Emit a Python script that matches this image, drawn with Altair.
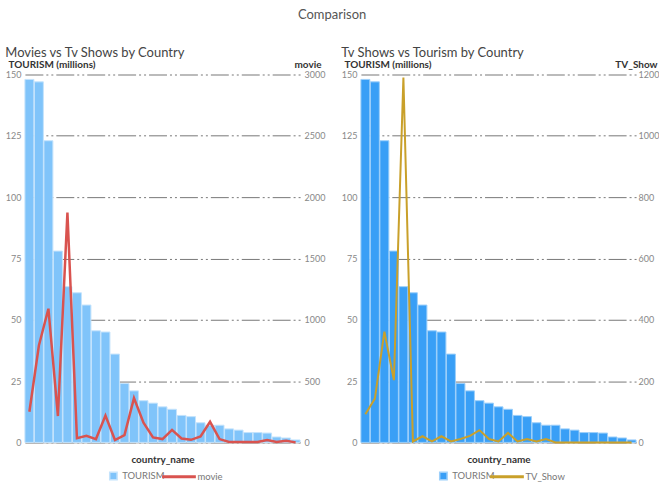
import altair as alt
import pandas as pd

# Countries ordered by tourist arrivals (descending)
countries = [
    "France", "Spain", "China", "Italy", "United States", "Turkey", "Mexico",
    "Germany", "Thailand", "United Kingdom", "Japan", "Austria", "Greece",
    "Malaysia", "Russia", "Canada", "Poland", "Netherlands", "Hungary",
    "Croatia", "Saudi Arabia", "Portugal", "Indonesia", "South Korea",
    "Vietnam", "Denmark", "Singapore", "Ireland", "Egypt",
]
tourism = [148, 147, 123, 78, 63.5, 61, 56, 45.5, 45, 36, 24, 21, 17, 16,
           14.5, 13.5, 11, 10.5, 8, 7, 7, 5.5, 5, 4, 4, 3.8, 2.2, 1.8, 1]
movies = [250, 790, 1090, 215, 1875, 35, 53, 27, 219, 19, 59, 361, 160, 40,
          27, 102, 32, 21, 48, 168, 27, 3, 3, 3, 3, 19, 3, 13, 0]
tv_shows = [92, 143, 361, 203, 1190, 3, 20, 3, 20, 3, 11, 21, 40, 11, 3,
            31, 3, 11, 3, 11, 0, 0, 0, 0, 0, 0, 0, 0, 0]

df = pd.DataFrame({
    "country_name": countries,
    "TOURISM": tourism,
    "movie": movies,
    "TV_Show": tv_shows,
})

FONT = "Lato"
GRID_DASH = [18, 3, 2, 3, 2, 3]
PLOT_W = 276
PLOT_H = 369
LEGEND_Y = 398


def panel(title, series, right_max, bar_color, bar_stroke, line_color,
          line_width, bar_key_x, line_key_x, right_label_pad):
    x = alt.X(
        "country_name:N",
        sort=countries,
        title="country_name",
        scale=alt.Scale(paddingInner=0.06, paddingOuter=0),
        axis=alt.Axis(labels=False, ticks=False, domain=True, domainColor="#999",
                      titleFontWeight="bold", titleFontSize=10, titleColor="#333",
                      titlePadding=12, titleFont=FONT),
    )
    bars = alt.Chart(df).transform_calculate(
        bar_series="'TOURISM'"
    ).mark_bar(stroke=bar_stroke, strokeWidth=1).encode(
        x=x,
        y=alt.Y(
            "TOURISM:Q",
            scale=alt.Scale(domain=[0, 150], nice=False),
            axis=alt.Axis(
                values=[0, 25, 50, 75, 100, 125, 150], grid=True,
                gridDash=GRID_DASH, gridColor="#777", gridWidth=1,
                domain=False, ticks=False, labelPadding=4,
                minExtent=17, maxExtent=17,
                labelColor="#888", labelFontSize=9, labelFont=FONT,
                title="TOURISM (millions)", titleAngle=0, titleAlign="left",
                titleBaseline="bottom", titleX=-17, titleY=-5,
                titleFontWeight="bold", titleFontSize=10, titleColor="#333",
                titleFont=FONT,
            ),
        ),
        fill=alt.Fill(
            "bar_series:N",
            scale=alt.Scale(domain=["TOURISM"], range=[bar_color]),
            legend=alt.Legend(title=None, orient="none", legendX=bar_key_x,
                              legendY=LEGEND_Y, padding=0, symbolType="square",
                              symbolSize=55, labelFontSize=9.5, labelColor="#777",
                              labelFont=FONT),
        ),
    )
    line = alt.Chart(df).transform_calculate(
        line_series=f"'{series}'"
    ).mark_line(strokeWidth=line_width).encode(
        x=alt.X("country_name:N", sort=countries),
        y=alt.Y(
            f"{series}:Q",
            scale=alt.Scale(domain=[0, right_max], nice=False),
            axis=alt.Axis(
                orient="right", tickCount=7, format="d", grid=False,
                domain=False, ticks=False, labelPadding=right_label_pad,
                labelColor="#888", minExtent=20, maxExtent=20,
                labelFontSize=9, labelFont=FONT,
                title=series, titleAngle=0, titleAlign="right",
                titleBaseline="bottom", titleX=21, titleY=-5,
                titleFontWeight="bold", titleFontSize=10, titleColor="#333",
                titleFont=FONT,
            ),
        ),
        stroke=alt.Stroke(
            "line_series:N",
            scale=alt.Scale(domain=[series], range=[line_color]),
            legend=alt.Legend(title=None, orient="none", legendX=line_key_x,
                              legendY=LEGEND_Y, padding=0, symbolType="stroke",
                              symbolStrokeWidth=3, symbolSize=1150, clipHeight=11,
                              labelOffset=0, labelFontSize=9.5, labelColor="#777",
                              labelFont=FONT),
        ),
    )
    return alt.layer(bars, line).resolve_scale(y="independent").properties(
        width=PLOT_W,
        height=PLOT_H,
        title=alt.TitleParams(title, anchor="start", fontSize=13, fontWeight="normal",
                              color="#444", font=FONT, offset=0),
    )


left = panel("Movies vs Tv Shows by Country", "movie", 3000,
             "#80c4fa", "#c4e3fc", "#d9534f", 2.5, 84, 136, 4)
right = panel("Tv Shows vs Tourism by Country", "TV_Show", 1200,
              "#399ff6", "#9ccffa", "#c9a02a", 2, 78, 128, 2)

chart = alt.hconcat(left, right, spacing=16).resolve_scale(
    fill="independent", stroke="independent"
).properties(
    padding={"left": 5, "top": 8, "right": 0, "bottom": 0},
    title=alt.TitleParams("Comparison", anchor="middle", fontSize=13,
                          fontWeight="normal", color="#555", font=FONT, offset=24.5),
).configure_view(stroke=None)

chart.save("out.html", embed_options={"renderer": "svg", "actions": False})
